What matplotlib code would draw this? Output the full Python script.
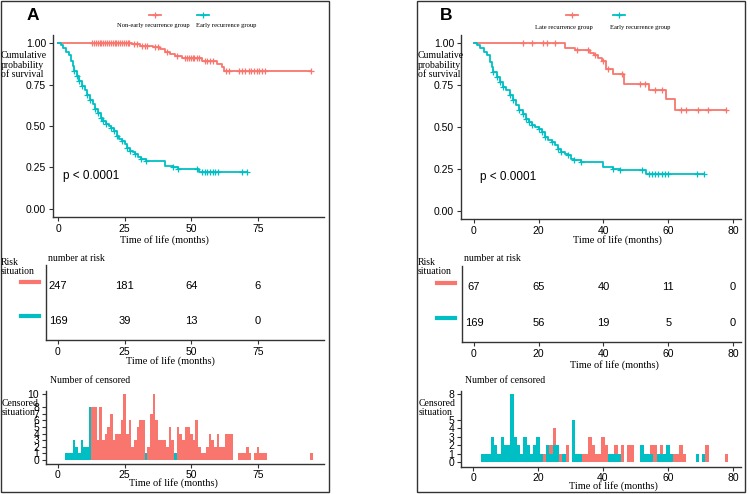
import matplotlib
matplotlib.use("Agg")
import matplotlib.pyplot as plt
from matplotlib.lines import Line2D
from matplotlib.patches import Rectangle

RED = "#F8766D"
TEAL = "#00BFC4"
SERIF = "Liberation Serif"
SANS = "Liberation Sans"

# ---------------- data ----------------
# early recurrence group (same in both panels)
t_early = [0, 1, 2, 3, 4, 5, 5.5, 6, 7, 8, 9, 10, 11, 12, 13, 14, 15, 16, 17, 18, 19,
           20, 21, 22, 23, 24, 25, 26, 27, 28, 29, 30, 31, 33, 40, 43, 45, 53]
s_early = [1.0, 0.99, 0.97, 0.95, 0.93, 0.89, 0.86, 0.83, 0.8, 0.77, 0.74, 0.72, 0.69,
           0.66, 0.63, 0.6, 0.58, 0.55, 0.53, 0.51, 0.5, 0.49, 0.47, 0.44, 0.42, 0.41,
           0.39, 0.37, 0.35, 0.34, 0.33, 0.31, 0.3, 0.29, 0.26, 0.25, 0.24, 0.22]
end_early = 71
cens_early = [6, 7, 8, 9, 11, 12, 14, 15, 16, 17, 18, 20, 21, 22, 24, 26, 27, 29, 31, 33,
              43, 45, 52, 54, 55, 56, 57, 58, 59, 60, 69, 71]

# panel A: non-early recurrence group
t_nonearly = [0, 27.6, 30.8, 35.8, 38.3, 40.1, 42, 43.9, 46.4, 54, 59.5, 61.4, 62.3]
s_nonearly = [1.0, 0.995, 0.985, 0.975, 0.965, 0.95, 0.935, 0.925, 0.91, 0.895, 0.875,
              0.855, 0.835]
end_nonearly = 95
cens_nonearly = [12.8, 13.5, 14.2, 14.9, 15.6, 16.3, 17, 17.7, 18.4, 19.1, 19.8, 20.5,
                 21.2, 21.9, 22.6, 23.3, 24, 24.7, 25.4, 26.1, 26.8, 28.5, 29.5, 31.5,
                 32.5, 33.5, 36.5, 37.5, 40.8, 44.5, 47.5, 48.3, 49, 49.8, 50.5, 51.2,
                 52, 52.8, 55, 56, 57, 58, 63, 64, 68, 69, 70, 71.5, 72.5, 73.5, 74.5,
                 75.5, 76.5, 77.5, 95]

# panel B: late recurrence group
t_late = [0, 28.1, 31.2, 35.8, 37.2, 38.2, 39.5, 40.9, 42.9, 46.5, 54.2, 59.3, 62.2]
s_late = [1.0, 0.97, 0.958, 0.944, 0.93, 0.91, 0.894, 0.848, 0.814, 0.759, 0.72, 0.665, 0.6]
end_late = 78
cens_late = [15.2, 17.8, 21.4, 22.6, 25, 31.7, 35.3, 37.3, 39.9, 41.5, 45.6, 51.2, 52.8,
             55.9, 58, 64.1, 65.6, 69.3, 72.3, 78]

# number at risk
risk_times_A = [0, 25, 50, 75]
risk_nonearly = [247, 181, 64, 6]
risk_early_A = [169, 39, 13, 0]
risk_times_B = [0, 20, 40, 60, 80]
risk_late = [67, 65, 40, 11, 0]
risk_early_B = [169, 56, 19, 5, 0]

# number of censored per month
ncens_early = {3: 1, 4: 1, 5: 1, 6: 3, 7: 2, 8: 1, 9: 3, 10: 2, 11: 2, 12: 8, 13: 3, 14: 2,
               15: 1, 16: 3, 17: 2, 18: 1, 19: 2, 20: 3, 21: 1, 23: 2, 24: 1, 25: 2, 26: 2,
               28: 1, 31: 5, 32: 1, 33: 1, 42: 1, 43: 1, 44: 1, 45: 1, 52: 2, 53: 1, 54: 1,
               55: 1, 57: 1, 58: 1, 59: 1, 60: 2, 61: 1, 69: 1, 71: 1}
ncens_nonearly = {13: 8, 14: 8, 15: 3, 16: 8, 17: 3, 18: 4, 19: 5, 20: 7, 21: 3, 22: 4,
                  23: 4, 24: 6, 25: 10, 26: 4, 27: 6, 28: 2, 29: 3, 30: 5, 31: 6, 32: 6,
                  34: 2, 35: 7, 36: 10, 37: 6, 38: 3, 39: 3, 40: 3, 41: 2, 42: 5, 43: 3,
                  45: 5, 46: 4, 47: 3, 48: 5, 49: 5, 50: 4, 51: 3, 52: 6, 53: 2, 54: 1,
                  55: 1, 56: 2, 57: 4, 58: 3, 59: 2, 60: 4, 61: 2, 62: 2, 63: 4, 64: 4,
                  65: 4, 68: 1, 69: 1, 70: 1, 71: 2, 72: 1, 74: 1, 75: 2, 76: 1, 77: 1,
                  78: 1, 95: 1}
ncens_late = {15: 1, 21: 1, 22: 1, 24: 2, 25: 4, 26: 1, 27: 1, 29: 2, 31: 2, 34: 1, 35: 1,
              36: 3, 37: 2, 38: 1, 39: 1, 40: 3, 41: 2, 44: 2, 45: 1, 46: 2, 48: 2, 49: 2,
              52: 2, 53: 1, 55: 2, 56: 2, 58: 2, 59: 1, 61: 1, 62: 1, 63: 1, 64: 2, 65: 1,
              69: 1, 72: 2, 78: 1}

W, H = 750, 494
fig = plt.figure(figsize=(7.5, 4.94), dpi=100)


def ax_px(left, top, right, bottom):
    return fig.add_axes([left / W, 1 - bottom / H, (right - left) / W, (bottom - top) / H])


def ftext(x, y, s, **kw):
    fig.text(x / W, 1 - y / H, s, **kw)


def fline(x0, x1, y, color, lw):
    fig.add_artist(Line2D([x0 / W, x1 / W], [1 - y / H, 1 - y / H], color=color, lw=lw,
                          transform=fig.transFigure))


def surv_at(times, surv, t):
    val = surv[0]
    for ti, si in zip(times, surv):
        if ti <= t:
            val = si
    return val


def style(ax, size=7.5):
    for side in ["top", "right"]:
        ax.spines[side].set_visible(False)
    for side in ["left", "bottom"]:
        ax.spines[side].set_color("#333333")
        ax.spines[side].set_linewidth(1.0)
    ax.tick_params(colors="#333333", labelcolor="black", labelsize=size, length=3, width=0.8,
                   pad=2)
    for lab in ax.get_xticklabels() + ax.get_yticklabels():
        lab.set_family(SANS)


def km(ax, times, surv, end, cens, color):
    ax.step(list(times) + [end], list(surv) + [surv[-1]], where="post", color=color, lw=1.3)
    ax.plot(cens, [surv_at(times, surv, c) for c in cens], "+", color=color, ms=5, mew=0.9)


def panel(x0, xlim, xticks, km_box, risk_box, cens_box, groups, risk_times, labels_pos,
          tag, cyticks, cylim, lab_coords):
    # Kaplan-Meier
    ax = ax_px(*km_box)
    for g in groups:
        km(ax, g["t"], g["s"], g["end"], g["cens"], g["color"])
    ax.set_xlim(xlim[0])
    ax.set_ylim(-0.05, 1.05)
    ax.set_xticks(xticks)
    ax.set_yticks([0, 0.25, 0.5, 0.75, 1.0])
    ax.set_yticklabels(["0.00", "0.25", "0.50", "0.75", "1.00"])
    ax.text(1.9, 0.2, "p < 0.0001", fontsize=8.5, family=SANS, va="center")
    ax.set_xlabel("Time of life (months)", family=SERIF, fontsize=7.5)
    ax.xaxis.set_label_coords(*lab_coords[0])
    style(ax)

    # risk table
    ax = ax_px(*risk_box)
    for row, g in zip([1, 0], groups):
        for t, n in zip(risk_times, g["risk"]):
            ax.text(t, row, str(n), ha="center", va="center", fontsize=8, family=SANS)
    ax.set_xlim(xlim[1])
    ax.set_ylim(-0.55, 1.6)
    ax.set_xticks(xticks)
    ax.set_yticks([])
    ax.set_xlabel("Time of life (months)", family=SERIF, fontsize=7.5)
    ax.xaxis.set_label_coords(*lab_coords[1])
    style(ax)

    # censored counts
    ax = ax_px(*cens_box)
    for g in groups[::-1] if tag == "A" else groups:
        ks = sorted(g["ncens"])
        ax.bar(ks, [g["ncens"][k] for k in ks], width=1.0, color=g["color"], linewidth=0)
    ax.set_xlim(xlim[1])
    ax.set_ylim(*cylim)
    ax.set_xticks(xticks)
    ax.set_yticks(cyticks)
    ax.set_xlabel("Time of life (months)", family=SERIF, fontsize=7.5)
    ax.xaxis.set_label_coords(*lab_coords[2])
    style(ax)
    ax.tick_params(axis="x", pad=1)

    # texts outside axes
    ftext(x0 + 1, 65, "Cumulative\nprobability\nof survival", family=SERIF, fontsize=7,
          va="center", linespacing=1.05)
    ftext(x0 + 1, 267, "Risk\nsituation", family=SERIF, fontsize=7, va="center",
          linespacing=1.05)
    ftext(x0 + 2, 408, "Censored\nsituation", family=SERIF, fontsize=7, va="center",
          linespacing=1.05)
    ftext(risk_box[0] + 2, 258, "number at risk", family=SERIF, fontsize=7, va="center")
    ftext(cens_box[0] + 4, 380, "Number of censored", family=SERIF, fontsize=7,
          va="center")
    ftext(labels_pos["tag"][0], labels_pos["tag"][1], tag, fontsize=12.5, weight="bold",
          family=SANS, ha="center", va="center")
    for g, (sx, lx, ly), dy in zip(groups, labels_pos["legend"], labels_pos["dash"]):
        fline(sx - 6, sx + 6, 15, g["color"], 1.3)
        fig.add_artist(Line2D([sx / W], [1 - 15 / H], marker="+", color=g["color"], ms=5,
                              mew=0.9, transform=fig.transFigure))
        ftext(lx, ly, g["label"], family=SERIF, fontsize=4.7, ha="center", va="center")
        fline(labels_pos["dashx"][0], labels_pos["dashx"][1], dy, g["color"], 3)


groups_A = [
    dict(t=t_nonearly, s=s_nonearly, end=end_nonearly, cens=cens_nonearly, color=RED,
         risk=risk_nonearly, ncens=ncens_nonearly, label="Non-early recurrence group"),
    dict(t=t_early, s=s_early, end=end_early, cens=cens_early, color=TEAL,
         risk=risk_early_A, ncens=ncens_early, label="Early recurrence group"),
]
groups_B = [
    dict(t=t_late, s=s_late, end=end_late, cens=cens_late, color=RED,
         risk=risk_late, ncens=ncens_late, label="Late recurrence group"),
    dict(t=t_early, s=s_early, end=end_early, cens=cens_early, color=TEAL,
         risk=risk_early_B, ncens=ncens_early, label="Early recurrence group"),
]

panel(0, [(-1.9, 99.8), (-4.5, 99.8)], [0, 25, 50, 75],
      (53, 35, 324, 217), (46, 265, 324, 340), (46, 391, 324, 464),
      groups_A, risk_times_A,
      dict(tag=(33, 16), legend=[(155, 153, 25), (203, 226, 25)], dash=[282, 316],
           dashx=(21, 39)),
      "A", [0, 1, 2, 3, 4, 5, 6, 7, 8, 10], (-0.6, 10.45),
      [(0.413, -0.1), (0.446, -0.22), (0.457, -0.195)])

panel(417, [(-4.0, 82.5), (-3.7, 82.5)], [0, 20, 40, 60, 80],
      (461, 35, 741, 219), (462, 266, 741, 342), (461, 391, 741, 467),
      groups_B, risk_times_B,
      dict(tag=(446, 15), legend=[(572, 564, 28), (619, 640, 28)], dash=[283, 318],
           dashx=(437, 455)),
      "B", [0, 1, 2, 3, 4, 5, 8], (-0.55, 8.4),
      [(0.557, -0.088), (0.548, -0.243), (0.546, -0.19)])

# panel borders
for x0, x1 in [(1, 329), (417, 745)]:
    fig.add_artist(Rectangle((x0 / W, 1 - 492 / H), (x1 - x0) / W, 491 / H, fill=False,
                             edgecolor="#333333", lw=1.0, transform=fig.transFigure))

fig.savefig("out.png", dpi=100)
